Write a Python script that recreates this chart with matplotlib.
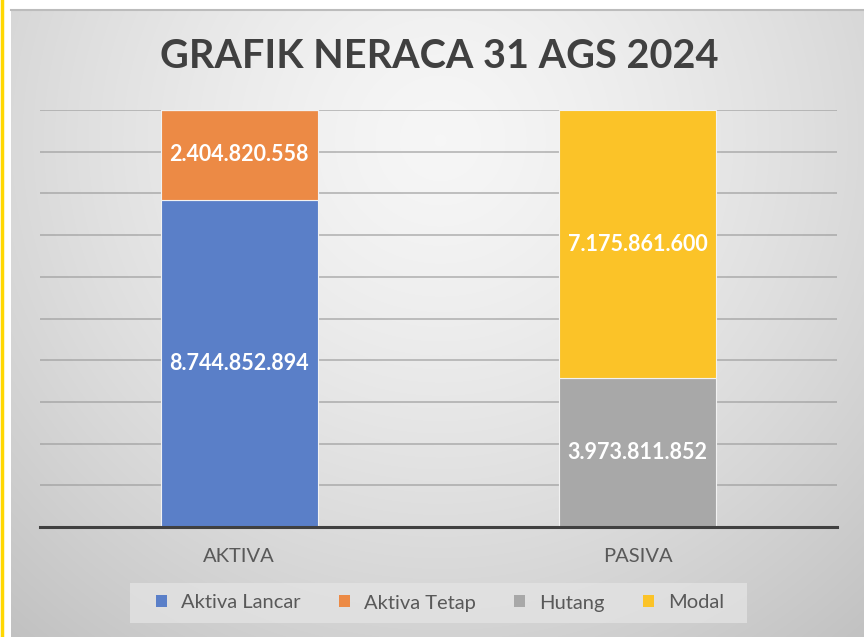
import numpy as np
import matplotlib
matplotlib.use("Agg")
import matplotlib.pyplot as plt
from matplotlib.patches import Patch, Rectangle

# ---- data ----
categories = ["AKTIVA", "PASIVA"]
series_names = ["Aktiva Lancar", "Aktiva Tetap", "Hutang", "Modal"]
aktiva_lancar = [8744852894, 0]
aktiva_tetap = [2404820558, 0]
hutang = [0, 3973811852]
modal = [0, 7175861600]
title = "GRAFIK NERACA 31 AGS 2024"

colors = ["#5A7FC8", "#EC8A45", "#A8A8A8", "#FBC328"]
FONT = "Lato"

W, H = 864, 637
fig = plt.figure(figsize=(W / 100, H / 100), dpi=100)
fig.patch.set_facecolor("white")

# background with radial gradient
bg = fig.add_axes([0, 0, 1, 1], zorder=0)
bg.axis("off")
yy, xx = np.mgrid[9:H, 11:W]
d = np.sqrt((xx - 440) ** 2 + (yy - 140) ** 2)
val = 0.965 - 0.2 * (d / 640) ** 1.4
img = np.dstack([val, val, val])
bg.imshow(img, extent=(11, W, H, 9), aspect="auto", interpolation="bilinear")
bg.plot([11, W], [9.5, 9.5], color="#bcbcbc", lw=1.5)
bg.plot([1.5, 1.5], [0, H], color="#FFD700", lw=2.5)
# legend box
bg.add_patch(Rectangle((130, 583), 617, 40, facecolor="#e4e4e4", alpha=0.75,
                       edgecolor="none"))
bg.set_xlim(0, W)
bg.set_ylim(H, 0)

# main axes
ax = fig.add_axes([40 / W, 1 - 527 / H, (837 - 40) / W, (527 - 110) / H], zorder=1)
ax.patch.set_alpha(0)
x = np.arange(len(categories))
width = 0.394
series = [aktiva_lancar, aktiva_tetap, hutang, modal]
bottom = np.zeros(len(categories))
for vals, c in zip(series, colors):
    vals = np.array(vals, dtype=float)
    ax.bar(x, vals, width, bottom=bottom, color=c, edgecolor="#f2f2f2",
           linewidth=0.8, zorder=3)
    for xi, v, b in zip(x, vals, bottom):
        if v > 0:
            ax.text(xi, b + v / 2, f"{v:,.0f}".replace(",", "."), ha="center",
                    va="center", color="white", fontsize=15.5, fontweight="bold",
                    family=FONT, zorder=4)
    bottom = bottom + vals

total = float(np.max(bottom))
ax.set_xlim(-0.5, 1.5)
ax.set_ylim(0, total)
ax.set_yticks(np.linspace(0, total, 11))
ax.yaxis.grid(True, color="#9a9a9a", alpha=0.7, lw=1.2, zorder=1)
ax.set_axisbelow(True)
ax.tick_params(axis="y", left=False, labelleft=False)
ax.tick_params(axis="x", length=0, pad=15)
ax.set_xticks(x)
ax.set_xticklabels(categories, fontsize=14.5, color="#595959", family=FONT)
for s in ["top", "right", "left"]:
    ax.spines[s].set_visible(False)
ax.spines["bottom"].set_color("#404040")
ax.spines["bottom"].set_linewidth(2.2)
ax.spines["bottom"].set_zorder(5)

fig.text(439 / W, 1 - 57 / H, title, ha="center", va="center", fontsize=28.5,
         fontweight="bold", color="#404040", family=FONT)

handles = [Patch(facecolor=c, edgecolor="none") for c in colors]
leg = fig.legend(handles, series_names, loc="center", ncol=4,
                 bbox_to_anchor=(440 / W, 1 - 603 / H), frameon=False,
                 prop={"family": FONT, "size": 14.5}, handlelength=0.55,
                 handleheight=0.55, handletextpad=0.7, columnspacing=1.9,
                 borderpad=0.3)
for t in leg.get_texts():
    t.set_color("#595959")

fig.savefig("out.png", dpi=100)
